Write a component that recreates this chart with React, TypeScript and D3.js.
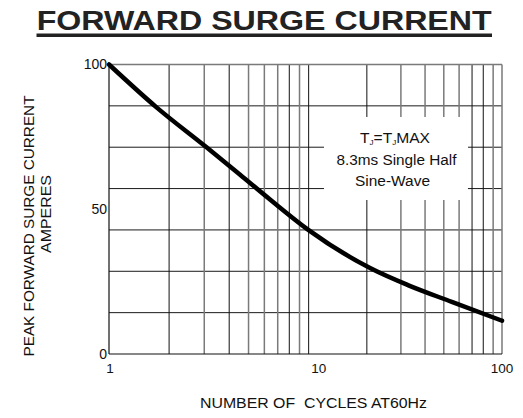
import React from 'react';
import * as d3 from 'd3';

// curve
const cycles = [1, 1.73, 3.08, 4.52, 6.45, 10, 20.9, 32.6, 55, 100];
const amps = [100, 85.2, 71.4, 62, 53.2, 42.8, 29.6, 23.8, 18, 11.5];

const xGrid = [2, 3, 4, 5, 6, 7, 8, 9, 10, 20, 30, 40, 50, 60, 70, 80, 90];
const xDark = [2, 4, 8, 10, 20, 70, 80];
const yTicks = [0, 50, 100];
const xTicks = [1, 10, 100];
const yDivisions = 7;

const width = 523;
const height = 418;
const margin = { top: 64.5, right: 21, bottom: 64, left: 109 };
const font = '"Liberation Sans", Arial, sans-serif';

export default function App() {
  const x0 = margin.left;
  const x1 = width - margin.right;
  const y0 = height - margin.bottom;
  const y1 = margin.top;

  const xScale = d3
    .scaleLog()
    .domain([1, 10, 100])
    .range([x0, x0 + (x1 - x0) * 0.508, x1]);
  const yScale = d3.scaleLinear().domain([0, 100]).range([y0, y1]);

  const line = d3
    .line<number>()
    .x((d, i) => xScale(cycles[i]))
    .y(d => yScale(d))
    .curve(d3.curveMonotoneX);

  const hLines = d3.range(1, yDivisions).map(i => (i * 100) / yDivisions);

  // white box behind the note
  const noteX = 395;
  const noteY = 137;
  const box = { x: noteX - 71, y: noteY - 20, w: 144, h: 83 };

  return (
    <svg width={width} height={height} style={{ position: 'absolute', left: 0, top: 0 }} fontFamily={font}>
      <rect width={width} height={height} fill="#fff" />
      <text x={36.7} y={30} fontSize={27.5} fontWeight="bold" fill="#222" textLength={455} lengthAdjust="spacingAndGlyphs">
        FORWARD SURGE CURRENT
      </text>
      <rect x={36.5} y={33.5} width={455.5} height={3.5} fill="#222" />

      {/* grid */}
      {hLines.map(v => (
        <line key={'h' + v} x1={x0} x2={x1} y1={yScale(v)} y2={yScale(v)} stroke="#1a1a1a" strokeWidth={1} />
      ))}
      {xGrid.map(v => (
        <line
          key={'v' + v}
          x1={xScale(v)}
          x2={xScale(v)}
          y1={y1}
          y2={y0}
          stroke={xDark.includes(v) ? '#111' : '#7a7a7a'}
          strokeWidth={xDark.includes(v) ? 1 : 1.5}
        />
      ))}
      <line x1={x0} x2={x1} y1={y1} y2={y1} stroke="#7a7a7a" strokeWidth={1.5} />
      <line x1={x1} x2={x1} y1={y1} y2={y0} stroke="#7a7a7a" strokeWidth={1.5} />
      <line x1={x0} x2={x1} y1={y0} y2={y0} stroke="#111" strokeWidth={1.2} />
      <line x1={x0} x2={x0} y1={y1} y2={y0} stroke="#111" strokeWidth={1.2} />

      <rect x={box.x} y={box.y} width={box.w} height={box.h} fill="#fff" />
      <g fontSize={15.5} textAnchor="middle" fill="#111">
        <text x={noteX} y={noteY + 5.5} textLength={70} lengthAdjust="spacingAndGlyphs">
          T<tspan fontSize={8} dy={2}>J</tspan>
          <tspan dy={-2}>=T</tspan>
          <tspan fontSize={8} dy={2}>J</tspan>
          <tspan dy={-2}>MAX</tspan>
        </text>
        <text x={noteX + 1.5} y={noteY + 28} textLength={120} lengthAdjust="spacingAndGlyphs">
          8.3ms Single Half
        </text>
        <text x={noteX - 2.5} y={noteY + 49} textLength={75} lengthAdjust="spacingAndGlyphs">
          Sine-Wave
        </text>
      </g>

      <path d={line(amps) || ''} fill="none" stroke="#000" strokeWidth={4.5} strokeLinecap="round" />

      {/* axes labels */}
      <g fill="#111">
        {yTicks.map(v => (
          <text key={'yt' + v} x={x0 - 2} y={yScale(v)} dy="0.35em" textAnchor="end" fontSize={14}>
            {v}
          </text>
        ))}
        {xTicks.map(v => (
          <text
            key={'xt' + v}
            x={xScale(v) + (v === 10 ? 10 : v === 1 ? 1 : 0)}
            y={y0 + 14}
            dy="0.35em"
            textAnchor="middle"
            fontSize={13.5}
          >
            {v}
          </text>
        ))}
      </g>
      <text
        x={313.5}
        y={403.3}
        dy="0.35em"
        textAnchor="middle"
        fontSize={14}
        fill="#111"
        style={{ whiteSpace: 'pre' }}
        textLength={227}
        lengthAdjust="spacingAndGlyphs"
      >
        NUMBER OF  CYCLES AT60Hz
      </text>
      <text
        transform={`translate(28.5,${226}) rotate(-90)`}
        dy="0.35em"
        textAnchor="middle"
        fontSize={14.5}
        fill="#111"
        textLength={261}
        lengthAdjust="spacingAndGlyphs"
      >
        PEAK FORWARD SURGE CURRENT
      </text>
      <text
        transform={`translate(46.3,${214}) rotate(-90)`}
        dy="0.35em"
        textAnchor="middle"
        fontSize={14.5}
        fill="#111"
        textLength={78}
        lengthAdjust="spacingAndGlyphs"
      >
        AMPERES
      </text>
    </svg>
  );
}
